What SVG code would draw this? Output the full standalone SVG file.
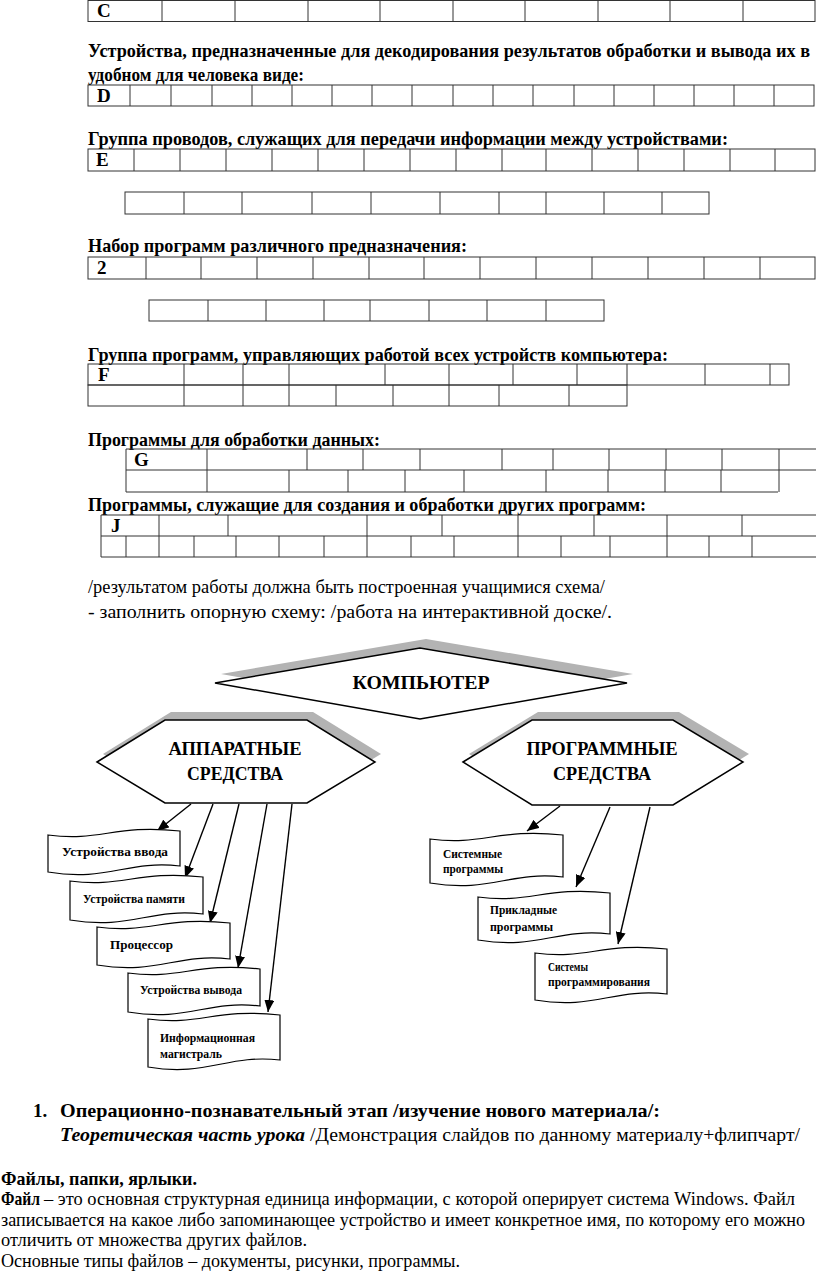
<svg xmlns="http://www.w3.org/2000/svg" width="816" height="1274" viewBox="0 0 816 1274">
<style>
.cell{fill:none;stroke:#333;stroke-width:1}
.h{font-family:"Liberation Serif",serif;font-weight:bold;font-size:19px;fill:#000}
.r{font-family:"Liberation Serif",serif;font-size:19px;fill:#000}
.bi{font-family:"Liberation Serif",serif;font-weight:bold;font-style:italic;font-size:19px;fill:#000}
.shape{fill:#fff;stroke:#000;stroke-width:1.5}
.shadow{fill:#b3b3b3;stroke:none}
.doc{fill:#fff;stroke:#000;stroke-width:1.2}
.dt{font-family:"Liberation Serif",serif;font-weight:bold;font-size:13px;fill:#000}
.ht{font-family:"Liberation Serif",serif;font-weight:bold;font-size:19px;fill:#000;text-anchor:middle}
.arr{stroke:#000;stroke-width:1.4;fill:none;marker-end:url(#ah)}
</style>
<defs>
<marker id="ah" markerUnits="userSpaceOnUse" markerWidth="14" markerHeight="10" refX="12" refY="5" orient="auto">
<path d="M0,0 L12,5 L0,10 Z" fill="#000"/>
</marker>
</defs>

<g id="table-c">
<rect class="cell" x="88" y="0.5" width="727" height="21"/>
<path class="cell" d="M162,0.5V21.5M235,0.5V21.5M308,0.5V21.5M380,0.5V21.5M453,0.5V21.5M525,0.5V21.5M598,0.5V21.5M670,0.5V21.5M743,0.5V21.5"/>
<text class="h" x="97" y="17">C</text>
</g>

<g id="heading-d">
<text class="h" x="88" y="57" font-size="18" textLength="722" lengthAdjust="spacingAndGlyphs">Устройства, предназначенные для декодирования результатов обработки и вывода их в</text>
<text class="h" x="88" y="81" textLength="216" lengthAdjust="spacingAndGlyphs">удобном для человека виде:</text>
</g>
<g id="table-d">
<rect class="cell" x="88" y="85" width="726" height="21"/>
<path class="cell" d="M130,85V106M171,85V106M212,85V106M252,85V106M292,85V106M332,85V106M372,85V106M412,85V106M453,85V106M493,85V106M533,85V106M574,85V106M614,85V106M654,85V106M694,85V106M734,85V106M774,85V106"/>
<text class="h" x="97" y="102">D</text>
</g>

<g id="heading-e">
<text class="h" x="88" y="145" textLength="640" lengthAdjust="spacingAndGlyphs">Группа проводов, служащих для передачи информации между устройствами:</text>
</g>
<g id="table-e">
<rect class="cell" x="88" y="149" width="727" height="22"/>
<path class="cell" d="M134,149V171M180,149V171M226,149V171M272,149V171M318,149V171M364,149V171M410,149V171M456,149V171M502,149V171M546,149V171M592,149V171M638,149V171M684,149V171M730,149V171M775,149V171"/>
<text class="h" x="96" y="166">E</text>
</g>
<g id="table-e2">
<rect class="cell" x="125" y="192" width="584" height="22"/>
<path class="cell" d="M184,192V214M242,192V214M312,192V214M371,192V214M440,192V214M499,192V214M546,192V214M604,192V214M662,192V214"/>
</g>

<g id="heading-2">
<text class="h" x="88" y="252" textLength="379" lengthAdjust="spacingAndGlyphs">Набор программ различного предназначения:</text>
</g>
<g id="table-2">
<rect class="cell" x="88" y="257" width="727" height="22"/>
<path class="cell" d="M146,257V279M201,257V279M257,257V279M313,257V279M369,257V279M424,257V279M480,257V279M536,257V279M592,257V279M648,257V279M704,257V279M760,257V279"/>
<text class="h" x="97" y="274">2</text>
</g>
<g id="table-2b">
<rect class="cell" x="149" y="300" width="455" height="21"/>
<path class="cell" d="M208,300V321M266,300V321M324,300V321M370,300V321M429,300V321M487,300V321M546,300V321"/>
</g>

<g id="heading-f">
<text class="h" x="88" y="361" textLength="580" lengthAdjust="spacingAndGlyphs">Группа программ, управляющих работой всех устройств компьютера:</text>
</g>
<g id="table-f">
<rect class="cell" x="88" y="364" width="701" height="21"/>
<path class="cell" d="M184,364V385M243,364V385M289,364V385M385,364V385M449,364V385M513,364V385M577,364V385M627,364V385M705,364V385M770,364V385"/>
<rect class="cell" x="88" y="385" width="539" height="21"/>
<path class="cell" d="M184,385V406M243,385V406M289,385V406M336,385V406M393,385V406M449,385V406M499,385V406M569,385V406"/>
<text class="h" x="98" y="381">F</text>
</g>

<g id="heading-g">
<text class="h" x="88" y="446" textLength="292" lengthAdjust="spacingAndGlyphs">Программы для обработки данных:</text>
</g>
<g id="table-g">
<path class="cell" d="M126,449H816M126,470H816M126,492H778M126,449V492M207,449V492M307,449V470M363,449V470M420,449V470M502,449V470M553,449V470M609,449V470M666,449V470M722,449V470M779,449V492M289,470V492M348,470V492M405,470V492M464,470V492M546,470V492M608,470V492M665,470V492M721,470V492"/>
<text class="h" x="134" y="466">G</text>
</g>

<g id="heading-j">
<text class="h" x="88" y="511" textLength="558" lengthAdjust="spacingAndGlyphs">Программы, служащие для создания и обработки других программ:</text>
</g>
<g id="table-j">
<path class="cell" d="M101,515H816M101,536H816M101,557H816M101,515V557M159,515V557M228,515V536M367,515V557M442,515V536M518,515V557M594,515V536M667,515V557M742,515V536M126,536V557M194,536V557M236,536V557M279,536V557M324,536V557M411,536V557M454,536V557M561,536V557M610,536V557M709,536V557M752,536V557"/>
<text class="h" x="111" y="532">J</text>
</g>

<g id="instructions">
<text class="r" x="88" y="593" textLength="517" lengthAdjust="spacingAndGlyphs">/результатом работы должна быть построенная учащимися схема/</text>
<text class="r" x="88" y="618" textLength="524" lengthAdjust="spacingAndGlyphs">- заполнить опорную схему: /работа на интерактивной доске/.</text>
</g>

<g id="node-computer">
<polygon class="shadow" points="221,674 426,639 633,674 426,710"/>
<polygon class="shape" points="215,683 420,648 627,683 420,719"/>
<text class="ht" x="421" y="689" textLength="137" lengthAdjust="spacingAndGlyphs">КОМПЬЮТЕР</text>
</g>

<g id="node-hardware">
<polygon class="shadow" points="103,754 171,712 313,712 381,754 313,795 171,795"/>
<polygon class="shape" points="97,762 165,720 307,720 375,762 307,803 165,803"/>
<text class="ht" x="235" y="755" textLength="133" lengthAdjust="spacingAndGlyphs">АППАРАТНЫЕ</text>
<text class="ht" x="235" y="780" textLength="96" lengthAdjust="spacingAndGlyphs">СРЕДСТВА</text>
</g>

<g id="node-software">
<polygon class="shadow" points="469,754 538,712 679,712 749,754 679,797 538,797"/>
<polygon class="shape" points="463,762 532,720 673,720 743,762 673,805 532,805"/>
<text class="ht" x="602" y="755" textLength="151" lengthAdjust="spacingAndGlyphs">ПРОГРАММНЫЕ</text>
<text class="ht" x="602" y="780" textLength="98" lengthAdjust="spacingAndGlyphs">СРЕДСТВА</text>
</g>

<g id="connectors">
<line class="arr" x1="191" y1="804" x2="157" y2="831"/>
<line class="arr" x1="213" y1="804" x2="185" y2="878"/>
<line class="arr" x1="239" y1="804" x2="210" y2="923"/>
<line class="arr" x1="267" y1="804" x2="238" y2="968"/>
<line class="arr" x1="292" y1="804" x2="268" y2="1012"/>
<line class="arr" x1="560" y1="806" x2="527" y2="831"/>
<line class="arr" x1="610" y1="807" x2="576" y2="887"/>
<line class="arr" x1="650" y1="807" x2="618" y2="944"/>
</g>

<g id="node-input">
<path class="doc" d="M48,835 C101,842 114,824 180,831 L180,866 C127,860 107,882 48,872 Z"/>
<text class="dt" x="62" y="856" textLength="106" lengthAdjust="spacingAndGlyphs">Устройства ввода</text>
</g>
<g id="node-memory">
<path class="doc" d="M70,881 C123,888 137,870 203,877 L203,914 C150,908 130,930 70,920 Z"/>
<text class="dt" x="83" y="903" font-size="11.5" textLength="102" lengthAdjust="spacingAndGlyphs">Устройства памяти</text>
</g>
<g id="node-cpu">
<path class="doc" d="M97,927 C150,934 164,916 230,923 L230,959 C177,953 157,975 97,965 Z"/>
<text class="dt" x="110" y="949" textLength="63" lengthAdjust="spacingAndGlyphs">Процессор</text>
</g>
<g id="node-output">
<path class="doc" d="M128,973 C181,980 194,962 260,969 L260,1006 C207,1000 187,1022 128,1012 Z"/>
<text class="dt" x="140" y="994" font-size="12" textLength="102" lengthAdjust="spacingAndGlyphs">Устройства вывода</text>
</g>
<g id="node-bus">
<path class="doc" d="M148,1019 C201,1026 214,1008 280,1015 L280,1060 C227,1054 207,1077 148,1067 Z"/>
<text class="dt" x="160" y="1042" font-size="11.5" textLength="95" lengthAdjust="spacingAndGlyphs">Информационная</text>
<text class="dt" x="160" y="1058" font-size="11.5" textLength="62" lengthAdjust="spacingAndGlyphs">магистраль</text>
</g>

<g id="node-system">
<path class="doc" d="M430,839 C483,846 497,828 563,835 L563,877 C510,871 490,893 430,883 Z"/>
<text class="dt" x="443" y="858" font-size="11.5" textLength="59" lengthAdjust="spacingAndGlyphs">Системные</text>
<text class="dt" x="443" y="873" font-size="11.5" textLength="60" lengthAdjust="spacingAndGlyphs">программы</text>
</g>
<g id="node-applied">
<path class="doc" d="M478,897 C531,904 544,886 610,893 L610,934 C557,928 537,950 478,940 Z"/>
<text class="dt" x="490" y="914" font-size="11.5" textLength="67" lengthAdjust="spacingAndGlyphs">Прикладные</text>
<text class="dt" x="490" y="931" font-size="11.5" textLength="63" lengthAdjust="spacingAndGlyphs">программы</text>
</g>
<g id="node-programming">
<path class="doc" d="M535,953 C588,960 601,942 667,949 L667,994 C614,988 594,1010 535,1000 Z"/>
<text class="dt" x="548" y="971" font-size="11.5" textLength="40" lengthAdjust="spacingAndGlyphs">Системы</text>
<text class="dt" x="548" y="986" font-size="11.5" textLength="102" lengthAdjust="spacingAndGlyphs">программирования</text>
</g>

<g id="bottom-text">
<text class="h" x="33" y="1117">1.</text>
<text class="h" x="60" y="1117" textLength="600" lengthAdjust="spacingAndGlyphs">Операционно-познавательный этап /изучение нового материала/:</text>
<text class="bi" x="60" y="1141" textLength="245" lengthAdjust="spacingAndGlyphs">Теоретическая часть урока</text>
<text class="r" x="310" y="1141" textLength="490" lengthAdjust="spacingAndGlyphs">/Демонстрация слайдов по данному материалу+флипчарт/</text>
<text class="h" x="1" y="1185" textLength="196" lengthAdjust="spacingAndGlyphs">Файлы, папки, ярлыки.</text>
<text class="h" x="1" y="1205" textLength="39" lengthAdjust="spacingAndGlyphs">Файл</text>
<text class="r" x="44" y="1205" textLength="751" lengthAdjust="spacingAndGlyphs">– это основная структурная единица информации, с которой оперирует система Windows. Файл</text>
<text class="r" x="1" y="1226" font-size="18" textLength="804" lengthAdjust="spacingAndGlyphs">записывается на какое либо запоминающее устройство и имеет конкретное имя, по которому его можно</text>
<text class="r" x="1" y="1246" textLength="306" lengthAdjust="spacingAndGlyphs">отличить от множества других файлов.</text>
<text class="r" x="1" y="1267" textLength="459" lengthAdjust="spacingAndGlyphs">Основные типы файлов – документы, рисунки, программы.</text>
</g>
</svg>
